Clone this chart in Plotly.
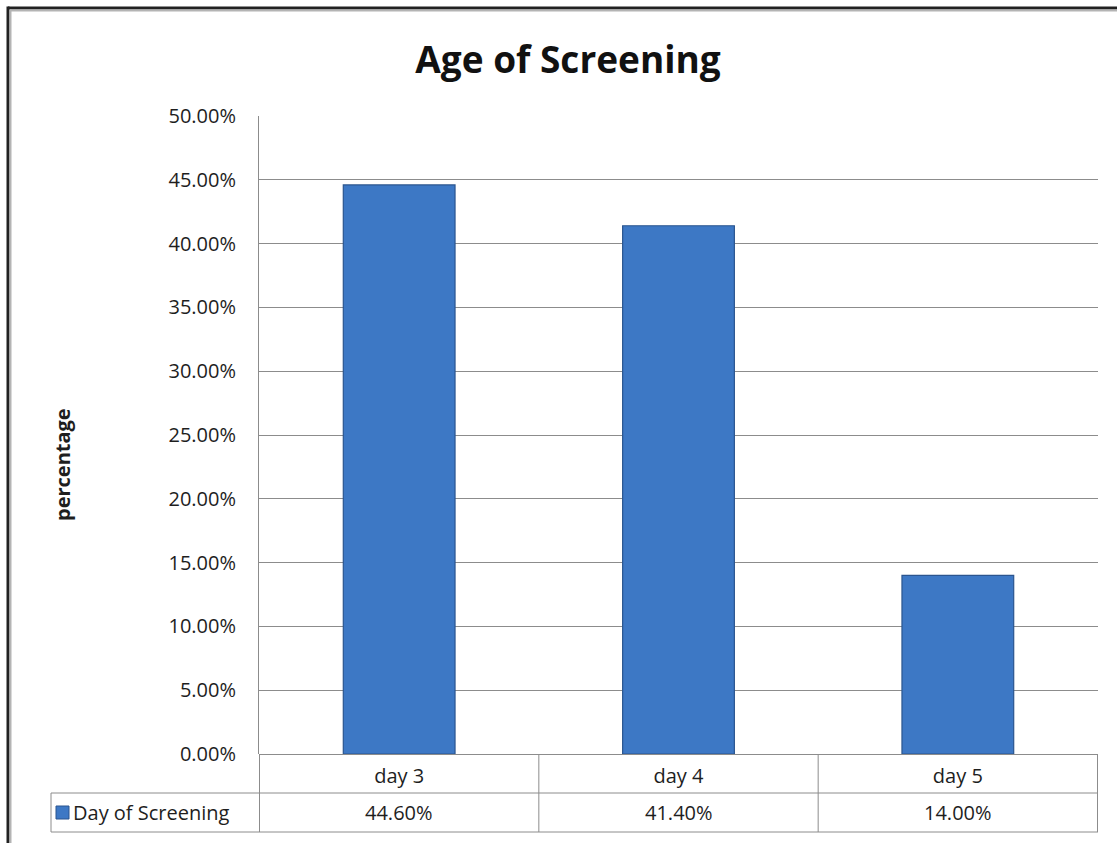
import plotly.graph_objects as go

categories = ["day 3", "day 4", "day 5"]
values = [0.446, 0.414, 0.140]
series_name = "Day of Screening"
title_text = "Age of Screening"
y_title = "percentage"

FONT = "Open Sans"
GRID = "#8c8c8c"
TXT = "#1e1e1e"
BAR = "#3d78c5"
BAR_EDGE = "#2b558f"

W, H = 1117, 843
L, R, T, B = 259, 19, 116, 89
pw, ph = W - L - R, H - T - B

def px_x(x):
    return (x - L) / pw

def px_y(y):
    return (H - B - y) / ph

fig = go.Figure()
fig.add_trace(go.Bar(
    x=categories, y=values, name=series_name, width=0.4,
    marker=dict(color=BAR, line=dict(color=BAR_EDGE, width=1.2)),
    showlegend=False,
))

row1_bot = px_y(793)
row2_bot = px_y(832)
leg_left = px_x(51)

shapes = []
# data table horizontal lines
shapes.append(dict(type="line", xref="paper", yref="paper", x0=leg_left, x1=1, y0=row1_bot, y1=row1_bot, line=dict(color=GRID, width=1)))
shapes.append(dict(type="line", xref="paper", yref="paper", x0=leg_left, x1=1, y0=row2_bot, y1=row2_bot, line=dict(color=GRID, width=1)))
# data table vertical lines
for i in range(len(categories) + 1):
    xv = i - 0.5
    shapes.append(dict(type="line", xref="x", yref="paper", x0=xv, x1=xv, y0=0, y1=row2_bot, line=dict(color=GRID, width=1)))
shapes.append(dict(type="line", xref="paper", yref="paper", x0=leg_left, x1=leg_left, y0=row1_bot, y1=row2_bot, line=dict(color=GRID, width=1)))
# legend key
shapes.append(dict(type="rect", xref="paper", yref="paper", x0=px_x(56), x1=px_x(69), y0=px_y(819), y1=px_y(806),
                   fillcolor=BAR, line=dict(color=BAR_EDGE, width=1)))
# outer chart border (top and left visible)
shapes.append(dict(type="line", xref="paper", yref="paper", x0=px_x(8), x1=px_x(1117), y0=px_y(8), y1=px_y(8), line=dict(color="#222222", width=3)))
shapes.append(dict(type="line", xref="paper", yref="paper", x0=px_x(10), x1=px_x(1117), y0=px_y(10.5), y1=px_y(10.5), line=dict(color="#b4b4b4", width=2)))
shapes.append(dict(type="line", xref="paper", yref="paper", x0=px_x(8), x1=px_x(8), y0=px_y(6.5), y1=px_y(843), line=dict(color="#222222", width=3)))
shapes.append(dict(type="line", xref="paper", yref="paper", x0=px_x(10.5), x1=px_x(10.5), y0=px_y(9.5), y1=px_y(843), line=dict(color="#b4b4b4", width=2)))

annotations = []
for c, v in zip(categories, values):
    annotations.append(dict(x=c, xref="x", y=(row1_bot + row2_bot) / 2, yref="paper",
                            text=f"{v*100:.2f}%", showarrow=False, xanchor="center", yanchor="middle",
                            font=dict(family=FONT, size=20, color=TXT)))
annotations.append(dict(x=px_x(71), xref="paper", y=(row1_bot + row2_bot) / 2, yref="paper",
                        text=series_name, showarrow=False, xanchor="left", yanchor="middle",
                        font=dict(family=FONT, size=20, color=TXT)))
annotations.append(dict(x=px_x(62), xref="paper", y=px_y(465), yref="paper", text=f"<b>{y_title}</b>",
                        textangle=-90, showarrow=False, xanchor="center", yanchor="middle",
                        font=dict(family=FONT, size=20, color=TXT)))

fig.update_layout(
    width=W, height=H,
    margin=dict(l=L, r=R, t=T, b=B, pad=0),
    paper_bgcolor="white", plot_bgcolor="white",
    title=dict(text=f"<b>{title_text}</b>", x=568 / W, xref="container",
               y=1 - 60 / H, yref="container", yanchor="middle", xanchor="center",
               font=dict(family=FONT, size=37, color="#111111")),
    font=dict(family=FONT, size=20, color=TXT),
    xaxis=dict(showgrid=False, showline=False, ticks="", ticklabelstandoff=8,
               tickfont=dict(family=FONT, size=20, color=TXT), zeroline=False),
    yaxis=dict(range=[0, 0.5], dtick=0.05, tickformat=".2%", showgrid=True, gridcolor=GRID, gridwidth=1,
               showline=True, linecolor=GRID, linewidth=1, ticks="", ticklabelstandoff=18,
               zeroline=True, zerolinecolor=GRID, zerolinewidth=1,
               tickfont=dict(family=FONT, size=20, color=TXT)),
    shapes=shapes, annotations=annotations,
)

fig.write_html("out.html", config={"displayModeBar": False},
               post_script="document.body.style.margin='0';document.body.style.overflow='hidden';")
